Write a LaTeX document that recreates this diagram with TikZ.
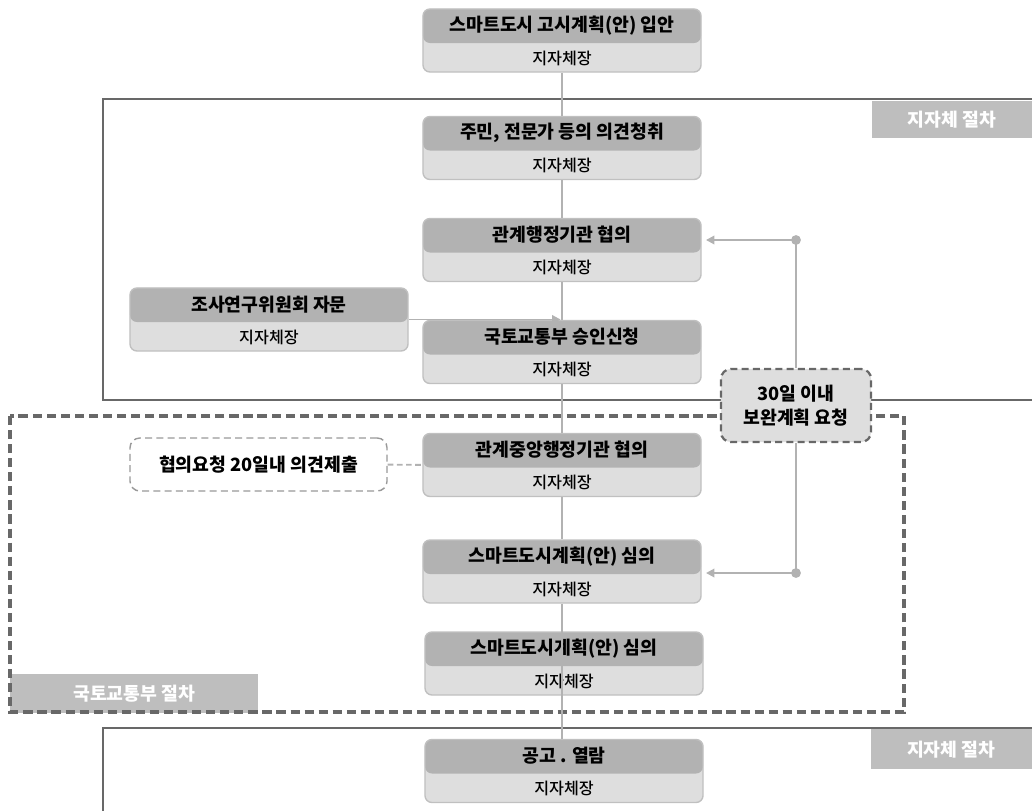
\documentclass[tikz,border=0pt]{standalone}
\usepackage{fontspec}
\setmainfont{Noto Sans CJK KR}
\newfontfamily\krmed{Noto Sans CJK KR Medium}
\usepackage{tikz}
\usetikzlibrary{positioning, arrows.meta, calc}
\definecolor{boxdark}{RGB}{178,178,178}
\definecolor{boxlight}{RGB}{222,222,222}
\definecolor{boxedge}{RGB}{192,192,192}
\definecolor{framegray}{RGB}{104,104,104}
\definecolor{tabgray}{RGB}{190,190,190}
\definecolor{linkgray}{RGB}{178,178,178}

% one process step: grey title band on top, office below
\newcommand{\procstep}[4]{%
  \node[stepbox] (#1) at (#2) {};
  \node[steptitle] (#1-t) at ([yshift=-0.425cm]#1.north) {#3};
  \node[stepsub] (#1-s) at ([yshift=0.36cm]#1.south) {#4};
}

\begin{document}
\begin{tikzpicture}[x=0.025cm, y=-0.025cm,
  stepbox/.style={draw=boxedge, line width=1pt, rounded corners=5pt, fill=boxlight,
    minimum width=6.95cm, minimum height=1.575cm, inner sep=0pt,
    path picture={\fill[boxdark] (path picture bounding box.north west) rectangle
      ([yshift=-0.85cm]path picture bounding box.north east);}},
  steptitle/.style={inner sep=0pt, font=\fontsize{13}{15}\selectfont\bfseries},
  stepsub/.style={inner sep=0pt, font=\fontsize{11.5}{13}\selectfont\krmed},
  callout/.style={draw=framegray, line width=1.6pt, dash pattern=on 5pt off 3pt, rounded corners=7pt,
    fill=boxlight, minimum width=3.75cm, minimum height=1.825cm, align=center,
    font=\fontsize{13}{17}\selectfont\bfseries},
  notebox/.style={draw=gray!80, line width=1pt, dash pattern=on 5pt off 3pt, rounded corners=7pt,
    fill=white, minimum width=6.425cm, minimum height=1.325cm,
    font=\fontsize{13}{15}\selectfont\bfseries},
  tab/.style={fill=tabgray, text=white, inner sep=0pt, font=\fontsize{13}{15}\selectfont\bfseries},
  frame/.style={draw=framegray, line width=1.4pt},
  dframe/.style={draw=framegray, line width=2.2pt, dash pattern=on 6.5pt off 3.5pt},
  link/.style={draw=linkgray, line width=1.4pt},
  linkarr/.style={link, -{Triangle[length=6pt, width=6pt]}}]
  \useasboundingbox (0,0) rectangle (1032,810);

  % procedure areas
  \draw[frame] (1040,99) -- (103,99) -- (103,400) -- (1040,400);
  \node[tab, minimum width=4cm, minimum height=0.925cm, anchor=north east] (cityA) at (1032,101) {지자체 절차};
  \node[tab, minimum width=6.2cm, minimum height=0.975cm, anchor=south west] (molit) at (10,713) {국토교통부 절차};
  \draw[dframe] (10,416) rectangle (904,712);
  \draw[frame] (1040,728) -- (103,728) -- (103,830);
  \node[tab, minimum width=4.025cm, minimum height=1cm, anchor=north east] (cityB) at (1032,729) {지자체 절차};

  % steps
  \procstep{s1}{562,40.5}{스마트도시 고시계획(안) 입안}{지자체장}
  \procstep{s2}{562,148}{주민, 전문가 등의 의견청취}{지자체장}
  \procstep{s3}{562,250}{관계행정기관 협의}{지자체장}
  \procstep{s4}{562,352}{국토교통부 승인신청}{지자체장}
  \procstep{s5}{562,465}{관계중앙행정기관 협의}{지자체장}
  \procstep{s6}{562,571.5}{스마트도시계획(안) 심의}{지자체장}
  \procstep{s7}{564,663.5}{스마트도시계획(안) 심의}{지자체장}
  \procstep{s8}{564,771}{공고 . 열람}{지자체장}
  \procstep{adv}{269,319.5}{조사연구위원회 자문}{지자체장}

  \node[notebox] (due) at (258.5,464.5) {협의요청 20일내 의견제출};
  \node[callout] (req) at (796,405.5) {30일 이내\\보완계획 요청};

  % connectors
  \draw[link] (s1) -- (s2);
  \draw[link] (s2) -- (s3);
  \draw[link] (s3) -- (s4);
  \draw[link] (s4) -- (s5);
  \draw[link] (s5) -- (s6);
  \draw[link] (s6.south) -- (s7.north -| s6.south);
  \draw[link] (s7.north -| s6.south) -- (s8.north -| s6.south);
  \coordinate (j1) at (adv.east -| s3.south);
  \draw[linkarr] (adv.east) -- ([xshift=-1pt]j1);
  \draw[link, dash pattern=on 4pt off 2.5pt] (due) -- (s5);

  \coordinate (d1) at (796,240);
  \coordinate (d2) at (796,573);
  \draw[link] (d1) -- (req.north);
  \draw[link] (req.south) -- (d2);
  \draw[linkarr] (d1) -- ([xshift=3pt]d1 -| s3.east);
  \draw[linkarr] (d2) -- ([xshift=3pt]d2 -| s6.east);
  \fill[linkgray] (d1) circle (3.5pt);
  \fill[linkgray] (d2) circle (3.5pt);
\end{tikzpicture}
\end{document}
